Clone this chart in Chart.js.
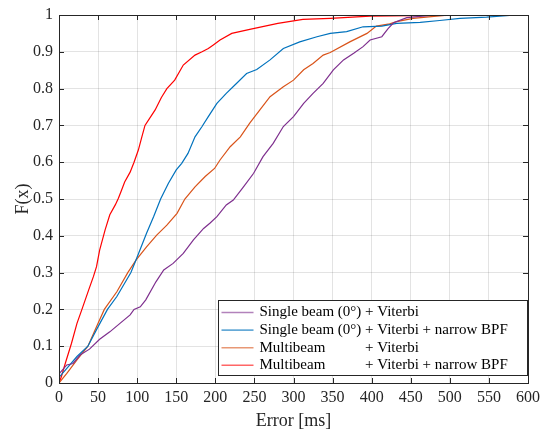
<!DOCTYPE html>
<html>
<head>
<meta charset="utf-8">
<script src="https://cdn.jsdelivr.net/npm/chart.js@4/dist/chart.umd.min.js"></script>
<style>
html,body{margin:0;padding:0;background:#fff;}
#wrap{width:541px;height:433px;}
</style>
</head>
<body>
<div id="wrap"><canvas id="c" width="541" height="433"></canvas></div>
<script>
// ---- data ----
const seriesLabels = [
  "Single beam (0°) + Viterbi",
  "Single beam (0°) + Viterbi + narrow BPF",
  "Multibeam + Viterbi",
  "Multibeam + Viterbi + narrow BPF"
];
const seriesColors = ["#7E2F8E", "#0072BD", "#D95319", "#FF0000"];

const singleX = [0,10,18,27,39,52,65,78,91,96,104,111,124,134,146,159,172,185,193,202,214,223,236,249,261,274,287,300,313,325,338,351,364,377,389,398,413,421,428,445,475,491];
const singleY = [0.025,0.049,0.053,0.076,0.092,0.119,0.139,0.162,0.185,0.20,0.207,0.226,0.275,0.307,0.325,0.352,0.389,0.42,0.434,0.452,0.484,0.497,0.533,0.57,0.615,0.651,0.697,0.724,0.76,0.787,0.814,0.851,0.878,0.896,0.914,0.932,0.941,0.963,0.979,0.993,0.999,1.0];

const singleNarrowX = [0,10,23,37,48,62,74,92,98.5,112,121,130,140,150,157,165,174,183,191,202,214,227,240,253,270,287,308,330,347,368,389,413,432,462,487,513,547,585];
const singleNarrowY = [0.015,0.04,0.072,0.10,0.145,0.20,0.235,0.30,0.334,0.407,0.452,0.50,0.543,0.579,0.597,0.624,0.669,0.697,0.724,0.76,0.787,0.814,0.841,0.852,0.878,0.909,0.927,0.941,0.95,0.955,0.968,0.97,0.977,0.98,0.985,0.991,0.994,1.0];

const multiX = [0,10,23,37,48,58,74,88,98.5,112,125,138,151,161,174,187,199,206,219,232,244,257,270,287,300,313,325,338,347,372,394,406,423,432,453,483,500];
const multiY = [0,0.026,0.063,0.10,0.153,0.20,0.248,0.30,0.334,0.37,0.402,0.429,0.461,0.50,0.533,0.561,0.583,0.606,0.642,0.669,0.706,0.742,0.778,0.805,0.823,0.851,0.868,0.891,0.898,0.927,0.95,0.97,0.976,0.982,0.991,0.997,1.0];

const multiNarrowX = [0,3,8,16,23,29,38,44,48,52,59,65,72,76,80,84,91,96,101.5,106,110,118,123,131,138,148,159,174,183,191,197,206,221,244,280,312,347,398,450,500,535];
const multiNarrowY = [0,0.017,0.053,0.108,0.162,0.198,0.253,0.289,0.316,0.361,0.416,0.457,0.484,0.502,0.524,0.546,0.573,0.60,0.633,0.669,0.70,0.726,0.742,0.776,0.80,0.823,0.864,0.891,0.90,0.909,0.918,0.932,0.95,0.961,0.977,0.988,0.991,0.997,0.998,0.999,1.0];

const xTicks = [0,50,100,150,200,250,300,350,400,450,500,550,600];
const yTicks = [0,0.1,0.2,0.3,0.4,0.5,0.6,0.7,0.8,0.9,1];
const xTitle = "Error [ms]";
const yTitle = "F(x)";

// ---- build ----
const allX = [singleX, singleNarrowX, multiX, multiNarrowX];
const allY = [singleY, singleNarrowY, multiY, multiNarrowY];
const datasets = seriesLabels.map((lab, i) => ({
  label: lab,
  data: allX[i].map((x, j) => ({x: x, y: allY[i][j]})),
  borderColor: seriesColors[i],
  backgroundColor: seriesColors[i],
  borderWidth: 1.2,
  pointRadius: 0,
  showLine: true,
  tension: 0,
  fill: false
}));

const FONT = "'Liberation Serif', 'Times New Roman', serif";
const AXC = "#262626";

const boxTicks = {
  id: 'boxTicks',
  afterDatasetsDraw(chart) {
    const {ctx, chartArea: a, scales} = chart;
    ctx.save();
    ctx.strokeStyle = AXC;
    ctx.lineWidth = 1;
    const L = 5;
    ctx.beginPath();
    xTicks.forEach(v => {
      const p = Math.round(scales.x.getPixelForValue(v)) + 0.5;
      ctx.moveTo(p, a.bottom); ctx.lineTo(p, a.bottom - L);
      ctx.moveTo(p, a.top); ctx.lineTo(p, a.top + L);
    });
    yTicks.forEach(v => {
      const p = Math.round(scales.y.getPixelForValue(v)) + 0.5;
      ctx.moveTo(a.left, p); ctx.lineTo(a.left + L, p);
      ctx.moveTo(a.right, p); ctx.lineTo(a.right - L, p);
    });
    ctx.stroke();
    ctx.strokeRect(Math.round(a.left) + 0.5, Math.round(a.top) + 0.5,
                   Math.round(a.right - a.left), Math.round(a.bottom - a.top));
    ctx.restore();
  },
  afterDraw(chart) {
    const {ctx, chartArea: a} = chart;
    const bw = 309, bh = 75;
    const bx = Math.round(a.right) - bw - 1 + 0.5;
    const by = Math.round(a.bottom) - bh - 8 + 0.5;
    ctx.save();
    ctx.fillStyle = '#fff';
    ctx.fillRect(bx, by, bw, bh);
    ctx.strokeStyle = AXC;
    ctx.lineWidth = 1;
    ctx.strokeRect(bx, by, bw, bh);
    ctx.font = "15px " + FONT;
    ctx.textBaseline = 'middle';
    ctx.fillStyle = '#000';
    const textX = bx + 41;
    const col2 = textX + ctx.measureText("Single beam (0°) ").width;
    chart.data.datasets.forEach((ds, i) => {
      const y = by + 12 + i * 17.6;
      ctx.save();
      ctx.globalAlpha = 0.6;
      ctx.strokeStyle = ds.borderColor;
      ctx.lineWidth = 1.6;
      ctx.beginPath();
      ctx.moveTo(bx + 3, y); ctx.lineTo(bx + 35, y);
      ctx.stroke();
      ctx.restore();
      const k = ds.label.indexOf("+ ");
      const first = ds.label.slice(0, k).trim();
      const rest = ds.label.slice(k);
      ctx.fillText(first, textX, y);
      if (first.indexOf("Single") === 0) {
        ctx.fillText(rest, textX + ctx.measureText(first + " ").width, y);
      } else {
        ctx.fillText(rest, col2, y);
      }
    });
    ctx.restore();
  }
};

new Chart(document.getElementById('c'), {
  type: 'scatter',
  data: {datasets},
  options: {
    responsive: false,
    animation: false,
    devicePixelRatio: 1,
    layout: {padding: {top: 15, right: 13, left: 0, bottom: 0}},
    plugins: {legend: {display: false}, tooltip: {enabled: false}},
    scales: {
      x: {
        type: 'linear', min: 0, max: 600,
        afterBuildTicks: s => { s.ticks = xTicks.map(v => ({value: v})); },
        afterFit: s => { s.height = 50; s.paddingLeft = 0; s.paddingRight = 0; },
        grid: {color: 'rgba(38,38,38,0.13)', drawTicks: false, lineWidth: 1},
        border: {display: false},
        ticks: {font: {family: FONT, size: 16}, color: AXC, padding: 5, maxRotation: 0,
                callback: v => String(v)},
        title: {display: true, text: xTitle, font: {family: FONT, size: 18}, color: AXC,
                padding: {top: 0, bottom: 1}}
      },
      y: {
        type: 'linear', min: 0, max: 1,
        afterBuildTicks: s => { s.ticks = yTicks.map(v => ({value: v})); },
        afterFit: s => { s.width = 59; s.paddingTop = 0; s.paddingBottom = 0; },
        grid: {color: 'rgba(38,38,38,0.13)', drawTicks: false, lineWidth: 1},
        border: {display: false},
        ticks: {font: {family: FONT, size: 16}, color: AXC, padding: 6,
                callback: v => String(Math.round(v * 10) / 10)},
        title: {display: true, text: yTitle, font: {family: FONT, size: 18}, color: AXC,
                padding: {top: 12, bottom: 0}}
      }
    }
  },
  plugins: [boxTicks]
});
</script>
</body>
</html>
